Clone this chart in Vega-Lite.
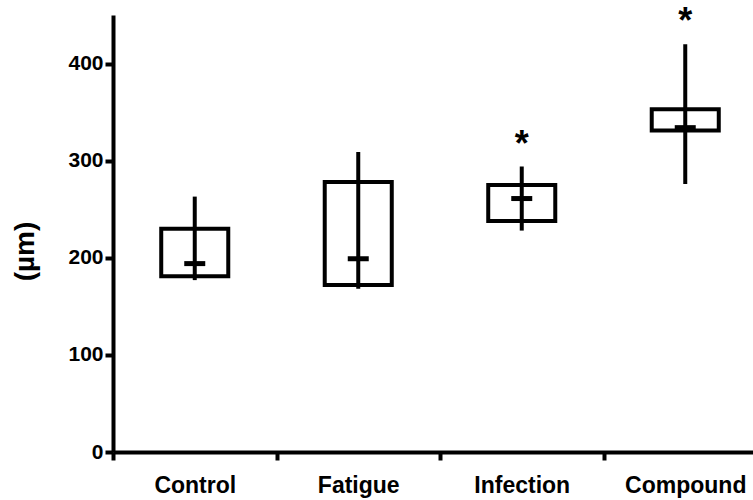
{
  "$schema": "https://vega.github.io/schema/vega-lite/v6.json",
  "width": 640,
  "height": 437,
  "autosize": {"type": "none"},
  "padding": {"left": 113, "top": 15, "right": 0, "bottom": 48},
  "background": "white",
  "config": {"view": {"stroke": null}, "font": "Liberation Sans"},
  "data": {
    "values": [
      {"group": "Control", "min": 177, "q1": 181, "median": 194, "q3": 230, "max": 263, "sig": null},
      {"group": "Fatigue", "min": 168, "q1": 172, "median": 199, "q3": 278, "max": 309, "sig": null},
      {"group": "Infection", "min": 228, "q1": 238, "median": 261, "q3": 275, "max": 294, "sig": 323},
      {"group": "Compound", "min": 276, "q1": 331, "median": 334, "q3": 353, "max": 420, "sig": 450}
    ]
  },
  "encoding": {
    "x": {
      "field": "group",
      "type": "nominal",
      "sort": ["Control", "Fatigue", "Infection", "Compound"],
      "scale": {"range": [0, 654], "paddingInner": 0, "paddingOuter": 0},
      "axis": {
        "title": null,
        "labelAngle": 0,
        "tickBand": "extent",
        "tickSize": 8,
        "tickWidth": 4,
        "tickColor": "black",
        "domainWidth": 4,
        "domainColor": "black",
        "labelFontSize": 23,
        "labelFontWeight": "bold",
        "labelColor": "black",
        "labelPadding": 14
      }
    }
  },
  "layer": [
    {
      "mark": {"type": "bar", "width": {"band": 0.41}, "fill": "white", "stroke": "black", "strokeWidth": 4},
      "encoding": {
        "y": {
          "field": "q1",
          "type": "quantitative",
          "scale": {"domain": [0, 450], "nice": false},
          "axis": {
            "values": [0, 100, 200, 300, 400],
            "grid": false,
            "tickSize": 8,
            "tickWidth": 4,
            "tickColor": "black",
            "domainWidth": 4,
            "domainColor": "black",
            "labelFontSize": 21,
            "labelFontWeight": "bold",
            "labelColor": "black",
            "labelPadding": 2,
            "title": "(µm)",
            "titleFontSize": 28,
            "titleFontWeight": "bold",
            "titleColor": "black",
            "titleAngle": 270,
            "titleX": -88,
            "titleY": 236,
            "titleAlign": "center",
            "titleBaseline": "middle"
          }
        },
        "y2": {"field": "q3"}
      }
    },
    {
      "mark": {"type": "rule", "color": "black", "strokeWidth": 4},
      "encoding": {
        "y": {"field": "min", "type": "quantitative"},
        "y2": {"field": "max"}
      }
    },
    {
      "mark": {"type": "tick", "color": "black", "size": 21, "thickness": 5, "opacity": 1},
      "encoding": {
        "y": {"field": "median", "type": "quantitative"}
      }
    },
    {
      "transform": [{"filter": "datum.sig != null"}],
      "mark": {"type": "text", "text": "*", "fontSize": 36, "fontWeight": "bold", "color": "black", "baseline": "alphabetic", "dy": 18},
      "encoding": {
        "y": {"field": "sig", "type": "quantitative"}
      }
    }
  ]
}
